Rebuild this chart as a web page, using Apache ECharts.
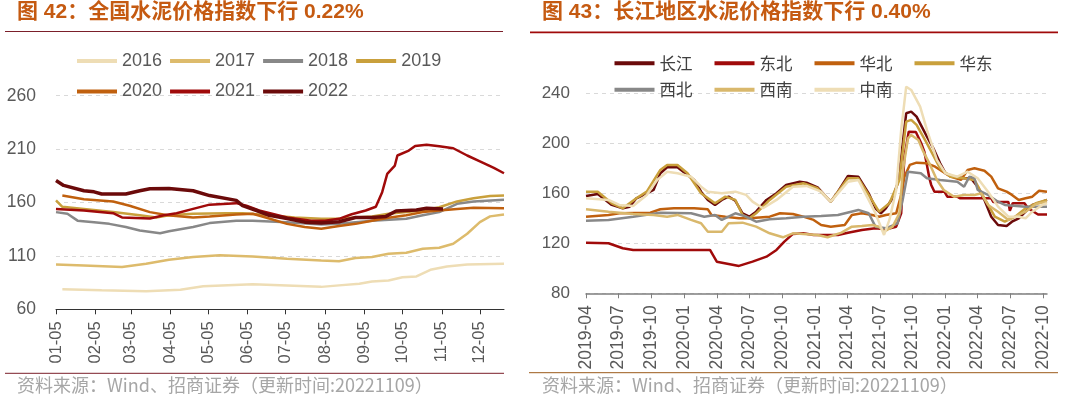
<!DOCTYPE html>
<html>
<head>
<meta charset="utf-8">
<script src="https://cdn.jsdelivr.net/npm/echarts@6/dist/echarts.min.js"></script>
<style>
html,body{margin:0;padding:0;background:#fff;}
#c{width:1066px;height:401px;}
</style>
</head>
<body>
<div id="c"></div>
<script>
// ---------- tick label ranges ----------
function dayRange(start, end, fmt) {
  const out = [];
  let t = Date.parse(start + 'T00:00:00Z');
  const e = Date.parse(end + 'T00:00:00Z');
  while (t <= e) { out.push(fmt(new Date(t).toISOString().slice(0, 10))); t += 86400000; }
  return out;
}
const leftDays = dayRange('2022-01-05', '2022-12-24', d => d.slice(5));
const rightDays = dayRange('2019-04-01', '2022-10-12', d => d);

// ---------- left chart: national cement price index ----------
const leftNames = ['2016', '2017', '2018', '2019', '2020', '2021', '2022'];
const y2016 = [['01-10',78.7],['02-10',77.8],['03-17',77],['04-13',78.4],['05-01',81.5],['06-09',83.4],['07-06',82.4],['08-02',81],['08-16',82.4],['09-01',84],['09-11',86],['09-24',87],['10-05',90],['10-16',90.8],['10-27',97],['11-09',100],['11-25',102],['12-24',102.7]];
const y2017 = [['01-05',102],['01-27',101],['02-26',99.6],['03-17',102.7],['04-04',106.4],['04-23',109],['05-14',110.5],['06-09',109.5],['07-06',107.4],['08-02',105.8],['08-16',105],['08-29',108],['09-11',109],['09-24',112],['10-08',113],['10-21',116.7],['11-03',117.6],['11-14',121.4],['11-25',130.7],['12-05',141.6],['12-13',147],['12-24',148.8]];
const y2018 = [['01-05',151],['01-14',149.4],['01-22',143],['02-04',141.6],['02-16',140],['03-01',137],['03-12',133.8],['03-28',131.3],['04-04',133],['04-23',137],['05-06',140.7],['05-27',143],['06-09',143],['07-06',141.6],['08-02',139.4],['08-16',140],['09-11',143],['10-08',144.7],['10-21',148],['11-03',151],['11-17',158.8],['11-30',161],['12-24',162.5]];
const y2019 = [['01-05',162],['01-10',156],['01-27',154],['02-19',151],['03-12',148],['03-25',146],['04-04',148],['04-23',149.4],['05-19',150],['06-01',150],['06-22',148],['07-12',146],['08-02',144.7],['08-16',144.7],['08-29',146],['09-11',147],['09-24',149.4],['10-08',151],['10-21',152.5],['11-03',155.6],['11-17',161],['11-30',164],['12-13',166],['12-24',166.5]];
const y2020 = [['01-10',166.5],['01-27',163],['02-19',161],['03-04',157],['03-20',151],['04-03',148],['04-23',146],['05-06',147],['05-27',148.8],['06-09',149.4],['06-22',145],['07-06',140],['07-20',137],['08-02',135.4],['08-16',138],['08-29',140],['09-11',143],['09-24',145.7],['10-08',148],['10-21',151],['11-03',152.5],['11-17',154],['11-30',155],['12-24',154.7]];
const y2021 = [['01-05',154],['01-27',152.5],['02-19',150],['02-26',146],['03-20',145],['03-31',148],['04-10',150],['04-23',154],['05-06',158],['05-27',159.4],['06-04',157],['06-14',152.5],['07-06',146],['07-25',143],['08-05',143],['08-16',144.7],['08-26',149],['09-06',152.5],['09-14',156],['09-19',169.7],['09-23',186.8],['09-29',194.6],['10-01',204],['10-10',208.6],['10-15',213],['10-24',214],['11-03',212.6],['11-14',210.8],['11-25',204],['12-05',198.6],['12-16',192.4],['12-24',187.4]];
const y2022 = [['01-05',180.6],['01-11',176],['01-27',171],['02-04',170],['02-10',168],['03-01',168],['03-12',171],['03-20',172.8],['04-04',173],['04-23',171],['05-06',166.5],['05-27',162],['06-01',157],['06-12',152.5],['06-22',148],['07-06',145],['07-20',141.6],['08-02',140.7],['08-16',142],['08-29',146],['09-11',146],['09-22',147],['09-30',152],['10-16',153],['10-24',154.7],['11-06',154]];
const leftData = [y2016, y2017, y2018, y2019, y2020, y2021, y2022];
const leftColors = ['#EEDDB5', '#DDBB6C', '#888888', '#C9A03C', '#C0600E', '#A00A0A', '#6B0A0A'];
const leftWidths = [2.5, 2.5, 2.5, 2.5, 2.5, 2.5, 3.5];

// ---------- right chart: Yangtze region cement price index ----------
const rightNames = ['长江', '东北', '华北', '华东', '西北', '西南', '中南'];
const changjiang = [['2019-04-01',157.9],['2019-05-04',159.5],['2019-06-12',150.7],['2019-07-13',148],['2019-08-01',149.3],['2019-08-20',156],['2019-09-18',160],['2019-10-07',162.7],['2019-10-26',176],['2019-11-14',180.8],['2019-12-13',180.8],['2020-01-10',174.7],['2020-01-29',170.7],['2020-02-17',161.3],['2020-03-07',154.7],['2020-03-27',150.7],['2020-04-15',154.7],['2020-05-04',157.3],['2020-05-23',154],['2020-06-12',144],['2020-07-01',141.3],['2020-07-20',145.3],['2020-08-18',154.7],['2020-09-15',160],['2020-10-12',166.7],['2020-11-19',169.3],['2020-12-08',168.5],['2021-01-08',164.8],['2021-01-27',158.7],['2021-02-14',153.3],['2021-03-06',161.3],['2021-04-03',173.9],['2021-05-02',173.3],['2021-05-31',160],['2021-06-19',148],['2021-07-04',144],['2021-07-18',148],['2021-08-06',156],['2021-08-20',168],['2021-08-30',189.3],['2021-09-13',224],['2021-09-27',225.3],['2021-10-12',221.3],['2021-11-10',205.3],['2021-11-28',196],['2021-12-17',184],['2022-01-01',176],['2022-01-25',173.3],['2022-02-22',172],['2022-03-13',172],['2022-04-01',165.3],['2022-04-20',154.7],['2022-05-09',141.3],['2022-05-28',134.7],['2022-06-21',133.9],['2022-07-06',137.3],['2022-07-25',140],['2022-08-13',145.3],['2022-09-01',150.7],['2022-09-29',153.3],['2022-10-12',154.7]];
const dongbei = [['2019-04-01',120.5],['2019-06-03',120],['2019-07-13',116],['2019-08-11',114.7],['2020-03-13',114.7],['2020-04-01',105.3],['2020-05-04',103.5],['2020-06-02',101.9],['2020-07-10',105.3],['2020-08-18',109.3],['2020-09-15',114.7],['2020-10-07',121.3],['2020-10-31',127.5],['2020-11-29',128],['2020-12-28',126.7],['2021-03-06',126.7],['2021-04-03',128.5],['2021-05-12',130.7],['2021-06-19',132],['2021-07-18',131.2],['2021-08-16',133.3],['2021-08-30',144],['2021-09-08',189.3],['2021-09-20',209.3],['2021-10-10',209],['2021-10-25',200],['2021-11-03',193],['2021-11-17',172],['2021-11-22',166.7],['2021-12-01',161.3],['2021-12-29',161.3],['2022-01-06',157.3],['2022-02-03',157.3],['2022-02-10',156],['2022-05-09',156],['2022-05-15',153],['2022-06-26',153],['2022-06-30',146],['2022-07-08',152],['2022-08-10',152],['2022-08-20',148],['2022-09-17',143],['2022-10-12',143]];
const huabei = [['2019-04-01',141.3],['2019-06-03',142.7],['2019-07-03',144],['2019-09-28',144.5],['2019-10-26',147.2],['2019-12-03',148],['2020-01-29',148],['2020-03-07',147.2],['2020-03-17',142.7],['2020-04-25',141.3],['2020-06-02',140],['2020-07-01',140],['2020-08-27',141.3],['2020-09-25',144],['2020-10-31',143.5],['2020-11-29',141.3],['2020-12-28',138.7],['2021-01-18',134.7],['2021-02-14',133.3],['2021-03-25',134.7],['2021-04-14',142.7],['2021-05-12',144],['2021-06-10',142.7],['2021-06-29',141.3],['2021-07-18',142.7],['2021-08-16',144],['2021-08-30',158.7],['2021-09-08',173.3],['2021-09-23',182.7],['2021-10-12',184.5],['2021-11-10',184],['2021-12-03',181.3],['2021-12-17',178.7],['2022-01-15',173.3],['2022-02-13',170.7],['2022-03-04',178.7],['2022-03-23',180],['2022-04-20',178],['2022-05-09',173.3],['2022-05-28',164],['2022-06-21',161.3],['2022-07-06',158.7],['2022-07-25',154.7],['2022-08-13',156],['2022-09-01',157.3],['2022-09-20',162],['2022-10-12',161.3]];
const huadong = [['2019-04-01',161.3],['2019-05-04',161.3],['2019-06-12',152],['2019-07-13',148],['2019-08-20',156],['2019-09-18',161.3],['2019-10-26',178.7],['2019-11-14',182.7],['2019-12-13',182.7],['2020-01-10',176],['2020-02-17',160],['2020-03-27',152],['2020-04-25',157.3],['2020-05-23',154.7],['2020-06-12',142.7],['2020-07-01',140],['2020-07-20',144],['2020-08-27',154.7],['2020-10-12',165.3],['2020-11-29',168],['2021-01-08',164],['2021-02-14',153.3],['2021-04-03',172],['2021-05-02',172],['2021-05-31',158.7],['2021-06-29',145.3],['2021-07-28',152],['2021-08-25',170.7],['2021-09-13',217.3],['2021-09-27',218.7],['2021-10-12',214.7],['2021-11-10',200],['2021-12-17',180],['2022-01-15',173.3],['2022-02-22',172],['2022-03-23',170.7],['2022-04-20',156],['2022-05-19',141.3],['2022-06-16',137.3],['2022-07-15',141.3],['2022-08-13',148],['2022-09-11',152],['2022-10-12',154.7]];
const xibei = [['2019-04-01',138.1],['2019-06-03',138.7],['2019-08-11',141.3],['2019-10-26',144.5],['2020-01-20',144],['2020-02-26',141.3],['2020-03-27',142.7],['2020-04-15',138.7],['2020-05-04',141.3],['2020-05-23',144],['2020-06-22',141.3],['2020-07-20',137.3],['2020-08-27',139.2],['2020-10-12',140],['2020-11-29',141.3],['2021-01-18',141.9],['2021-03-06',142.7],['2021-05-02',146.7],['2021-05-31',144],['2021-06-19',133.3],['2021-07-18',132],['2021-08-20',136],['2021-09-04',156],['2021-09-18',177.3],['2021-10-24',176],['2021-11-10',172],['2021-12-17',170.7],['2022-02-03',169.3],['2022-02-22',165.3],['2022-03-09',173.3],['2022-03-23',172],['2022-04-01',162.7],['2022-04-30',158.7],['2022-05-28',153.3],['2022-06-16',150.7],['2022-08-13',149.3],['2022-10-12',149.3]];
const xinan = [['2019-04-01',147.2],['2019-06-03',145.3],['2019-08-11',143.5],['2019-10-07',142.7],['2019-11-14',141.3],['2019-12-13',142.7],['2020-01-20',138.7],['2020-02-17',136],['2020-03-07',129.3],['2020-04-15',129.3],['2020-05-04',136],['2020-06-12',136.5],['2020-07-20',133.3],['2020-08-27',128],['2020-10-03',124.8],['2020-10-31',128],['2020-11-29',127.5],['2021-01-08',126.7],['2021-02-05',124.8],['2021-03-16',128.5],['2021-04-14',133.3],['2021-05-12',133.9],['2021-06-10',134.7],['2021-06-29',133.3],['2021-07-13',129.3],['2021-08-06',133.3],['2021-08-25',144],['2021-09-04',178.7],['2021-09-18',204],['2021-09-27',206.7],['2021-10-17',202.7],['2021-10-31',193.3],['2021-11-19',182.7],['2021-12-08',170.7],['2021-12-27',162.7],['2022-01-25',157.3],['2022-02-22',158.7],['2022-03-23',158.7],['2022-04-11',160],['2022-04-30',150.7],['2022-05-28',145.3],['2022-06-26',138.7],['2022-07-15',141.3],['2022-08-13',145.3],['2022-09-11',151.5],['2022-10-12',153.3]];
const zhongnan = [['2019-04-01',156],['2019-06-03',154.7],['2019-07-03',150.7],['2019-08-11',149.9],['2019-09-18',158.7],['2019-10-17',170.7],['2019-11-14',177.3],['2019-12-13',176],['2020-01-20',173.3],['2020-02-17',165.3],['2020-03-07',161.3],['2020-04-15',160],['2020-05-23',161.3],['2020-06-22',158.7],['2020-07-10',153.3],['2020-08-08',148],['2020-09-15',154.7],['2020-10-31',165.3],['2020-12-08',165.9],['2021-01-18',161.3],['2021-02-14',153.3],['2021-04-03',169.3],['2021-05-02',170.7],['2021-05-31',154.7],['2021-06-19',144],['2021-07-13',126.7],['2021-07-28',138.7],['2021-08-16',162.7],['2021-08-30',210.7],['2021-09-13',245.3],['2021-09-27',242.7],['2021-10-22',229.3],['2021-11-10',210.7],['2021-12-08',186.7],['2022-01-01',176],['2022-02-03',173.3],['2022-03-04',177.3],['2022-04-01',172],['2022-04-30',161.3],['2022-05-28',149.3],['2022-06-26',141.3],['2022-07-25',141.3],['2022-08-13',140],['2022-09-01',145.3],['2022-09-29',150.7],['2022-10-12',152]];
const rightData = [changjiang, dongbei, huabei, huadong, xibei, xinan, zhongnan];
const rightColors = ['#6B0A0A', '#A00A0A', '#C0600E', '#C9A03C', '#888888', '#D9B86C', '#EEDDB5'];

// ---------- chart ----------
const FONT = '"Liberation Sans", "Noto Sans CJK SC", sans-serif';
const CJK = '"Noto Sans CJK SC", "Liberation Sans", sans-serif';
const chart = echarts.init(document.getElementById('c'), null, { renderer: 'canvas' });

const series = [];
leftNames.forEach((n, i) => series.push({
  name: n, type: 'line', xAxisIndex: 0, yAxisIndex: 0, data: leftData[i],
  showSymbol: false, symbol: 'none', color: leftColors[i],
  lineStyle: { width: leftWidths[i], color: leftColors[i] }, z: 2 + i
}));
rightNames.forEach((n, i) => series.push({
  name: n, type: 'line', xAxisIndex: 1, yAxisIndex: 1, data: rightData[i],
  showSymbol: false, symbol: 'none', clip: false, color: rightColors[i],
  lineStyle: { width: 2.5, color: rightColors[i] }, z: 2 + i
}));

const legendBase = {
  orient: 'horizontal', icon: 'rect', itemWidth: 40, itemHeight: 4,
  selectedMode: false, padding: 0
};

chart.setOption({
  animation: false,
  textStyle: { fontFamily: FONT },
  grid: [
    { left: 56, right: 562, top: 95.7, bottom: 91.7 },
    { left: 586, right: 19, top: 93.3, bottom: 107.7 }
  ],
  xAxis: [
    {
      gridIndex: 0, type: 'category', data: leftDays, boundaryGap: false,
      axisLine: { lineStyle: { color: '#333333', width: 1 } },
      axisTick: { length: 5, interval: (i, v) => v.endsWith('-05'), lineStyle: { color: '#333333' } },
      axisLabel: { interval: (i, v) => v.endsWith('-05'), rotate: 90, margin: 12, fontSize: 16.5, color: '#595959', fontFamily: FONT }
    },
    {
      gridIndex: 1, type: 'category', data: rightDays, boundaryGap: false,
      axisLine: { lineStyle: { color: '#7F7F7F', width: 1.5 } },
      axisTick: { length: 5, interval: (i, v) => /-(01|04|07|10)-01$/.test(v), lineStyle: { color: '#7F7F7F' } },
      axisLabel: { interval: (i, v) => /-(01|04|07|10)-01$/.test(v), formatter: v => v.slice(0, 7), rotate: 90, margin: 12, fontSize: 17.5, color: '#595959', fontFamily: FONT }
    }
  ],
  yAxis: [
    {
      gridIndex: 0, type: 'value', min: 60, max: 260, interval: 50,
      axisLine: { show: false }, axisTick: { show: false },
      axisLabel: { margin: 20, fontSize: 17.5, color: '#595959', fontFamily: FONT },
      splitLine: { lineStyle: { color: '#D9D9D9', type: [4, 4], width: 1 } }
    },
    {
      gridIndex: 1, type: 'value', min: 80, max: 240, interval: 40,
      axisLine: { show: false }, axisTick: { show: false },
      axisLabel: { margin: 16, fontSize: 17, color: '#595959', fontFamily: FONT },
      splitLine: { lineStyle: { color: '#D9D9D9', type: [4, 4], width: 1 } }
    }
  ],
  legend: [
    Object.assign({}, legendBase, { data: leftNames.slice(0, 4), left: 77, top: 52, itemGap: 8, textStyle: { fontSize: 18, color: '#595959', fontFamily: FONT } }),
    Object.assign({}, legendBase, { data: leftNames.slice(4), left: 77, top: 82.5, itemGap: 8, textStyle: { fontSize: 18, color: '#595959', fontFamily: FONT } }),
    Object.assign({}, legendBase, { data: rightNames.slice(0, 4), left: 614.5, top: 55, itemGap: 22, textStyle: { fontSize: 16.5, color: '#404040', fontFamily: CJK } }),
    Object.assign({}, legendBase, { data: rightNames.slice(4), left: 614.5, top: 81.5, itemGap: 22, textStyle: { fontSize: 16.5, color: '#404040', fontFamily: CJK } })
  ],
  graphic: [
    { type: 'text', left: 17, top: 2, style: { text: '图 42：全国水泥价格指数下行 0.22%', fill: '#C55A11', font: 'bold 21px ' + FONT } },
    { type: 'text', left: 542, top: 2, style: { text: '图 43：长江地区水泥价格指数下行 0.40%', fill: '#C55A11', font: 'bold 21px ' + FONT } },
    { type: 'line', shape: { x1: 5, y1: 31.5, x2: 503, y2: 31.5 }, style: { stroke: '#7B1F2A', lineWidth: 1.2 } },
    { type: 'line', shape: { x1: 530, y1: 32.4, x2: 1058, y2: 32.4 }, style: { stroke: '#A00A0A', lineWidth: 1.6 } },
    { type: 'line', shape: { x1: 5, y1: 373.3, x2: 504, y2: 373.3 }, style: { stroke: '#7B1F2A', lineWidth: 1 } },
    { type: 'line', shape: { x1: 529, y1: 372.7, x2: 1058, y2: 372.7 }, style: { stroke: '#9C5A1A', lineWidth: 1 } },
    { type: 'text', left: 17, top: 376.5, style: { text: '资料来源：Wind、招商证券（更新时间:20221109）', fill: '#A6A6A6', font: '18px ' + CJK } },
    { type: 'text', left: 542, top: 376.5, style: { text: '资料来源：Wind、招商证券（更新时间:20221109）', fill: '#A6A6A6', font: '18px ' + CJK } }
  ],
  series: series
});
</script>
</body>
</html>
